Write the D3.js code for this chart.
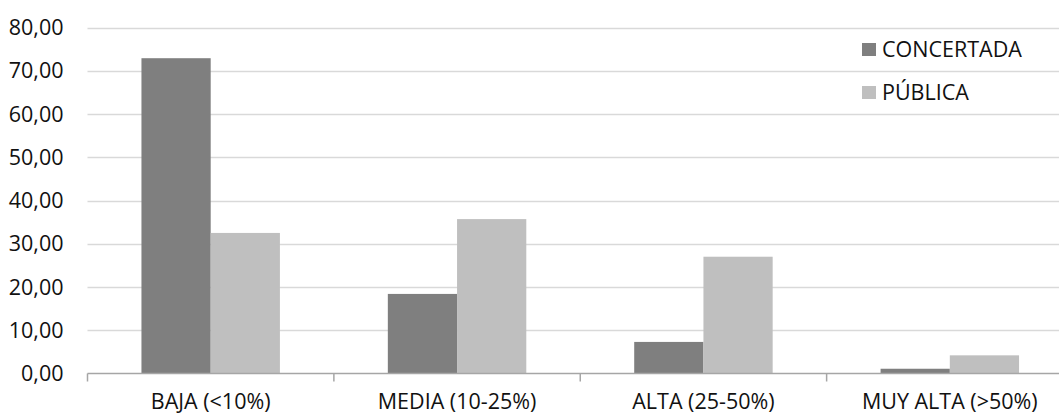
<!DOCTYPE html>
<html>
<head>
<meta charset="utf-8">
<script src="https://cdn.jsdelivr.net/npm/d3@7"></script>
<style>
  body { margin: 0; background: #fff; }
  text { font-family: "Open Sans", sans-serif; }
</style>
</head>
<body>
<script>
const categories = ["BAJA (<10%)", "MEDIA (10-25%)", "ALTA (25-50%)", "MUY ALTA (>50%)"];
const seriesNames = ["CONCERTADA", "PÚBLICA"];
const concertada = [72.9, 18.4, 7.3, 1.1];
const publica = [32.5, 35.7, 27.0, 4.2];
const yTicks = [0, 10, 20, 30, 40, 50, 60, 70, 80];
const colors = ["#7f7f7f", "#bfbfbf"];

const width = 1059, height = 415;
const plotLeft = 87.5, plotRight = 1073, plotTop = 27.5, plotBottom = 373.5;
const fontSize = "21.5px";

const svg = d3.select("body").append("svg")
    .attr("width", width)
    .attr("height", height);

const y = d3.scaleLinear().domain([0, 80]).range([plotBottom, plotTop]);
const x0 = d3.scaleBand().domain(categories).range([plotLeft, plotRight]);
const bw = x0.bandwidth();
const x1 = d3.scaleBand().domain(seriesNames).range([bw * 0.219, bw * 0.781]);

// gridlines
svg.append("g")
    .selectAll("line")
    .data(yTicks.filter(d => d > 0))
    .enter()
    .append("line")
    .attr("x1", plotLeft)
    .attr("x2", plotRight)
    .attr("y1", d => Math.round(y(d)) + 0.5)
    .attr("y2", d => Math.round(y(d)) + 0.5)
    .attr("stroke", "#d9d9d9")
    .attr("stroke-width", 1.5);

// y labels
svg.append("g")
    .selectAll("text")
    .data(yTicks)
    .enter()
    .append("text")
    .attr("x", 63.5)
    .attr("y", d => y(d))
    .attr("dy", "0.36em")
    .attr("text-anchor", "end")
    .style("font-size", fontSize)
    .style("fill", "#111")
    .text(d => d3.format(".2f")(d).replace(".", ","));

// bars
const data = categories.map((c, i) => ({ cat: c, vals: [concertada[i], publica[i]] }));
const groups = svg.append("g")
    .selectAll("g")
    .data(data)
    .enter()
    .append("g")
    .attr("transform", d => `translate(${x0(d.cat)},0)`);

groups.selectAll("rect")
    .data(d => d.vals.map((v, j) => ({ name: seriesNames[j], v: v, j: j })))
    .enter()
    .append("rect")
    .attr("x", d => x1(d.name))
    .attr("width", x1.bandwidth())
    .attr("y", d => y(d.v))
    .attr("height", d => plotBottom - y(d.v))
    .attr("fill", d => colors[d.j]);

// x axis
const xAxis = svg.append("g");
xAxis.append("line")
    .attr("x1", plotLeft).attr("x2", plotRight)
    .attr("y1", plotBottom).attr("y2", plotBottom)
    .attr("stroke", "#a6a6a6")
    .attr("stroke-width", 1.5);

xAxis.selectAll("line.tick")
    .data(categories)
    .enter()
    .append("line")
    .attr("class", "tick")
    .attr("x1", d => x0(d))
    .attr("x2", d => x0(d))
    .attr("y1", plotBottom)
    .attr("y2", plotBottom + 8)
    .attr("stroke", "#a6a6a6")
    .attr("stroke-width", 1.5);

xAxis.selectAll("text")
    .data(categories)
    .enter()
    .append("text")
    .attr("x", d => x0(d) + bw / 2)
    .attr("y", 408.5)
    .attr("text-anchor", "middle")
    .style("font-size", fontSize)
    .style("fill", "#111")
    .text(d => d);

// legend
const legend = svg.append("g")
    .selectAll("g")
    .data(seriesNames)
    .enter()
    .append("g")
    .attr("transform", (d, i) => `translate(862,${43 + i * 43})`);

legend.append("rect")
    .attr("width", 14)
    .attr("height", 13)
    .attr("fill", (d, i) => colors[i]);

legend.append("text")
    .attr("x", 20)
    .attr("y", 6.5)
    .attr("dy", "0.36em")
    .style("font-size", fontSize)
    .style("fill", "#111")
    .text(d => d);
</script>
</body>
</html>
